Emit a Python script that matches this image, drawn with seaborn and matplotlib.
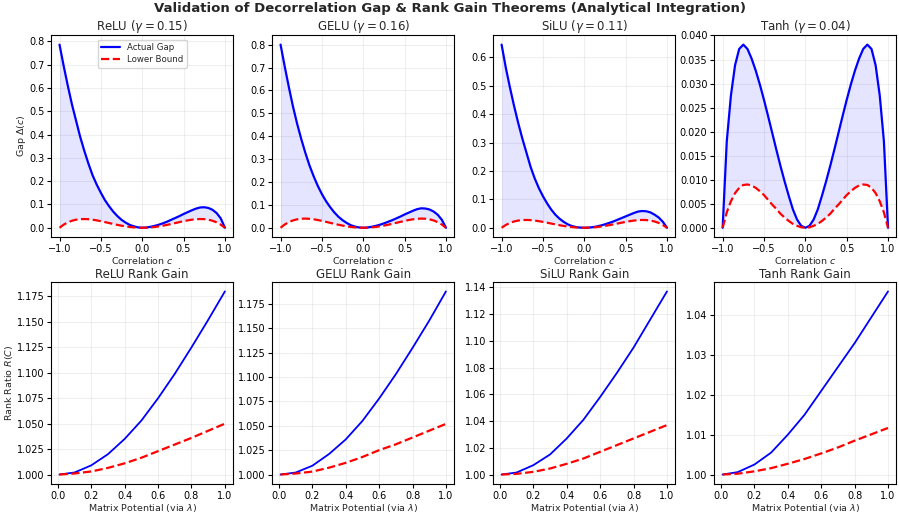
import numpy as np
import pandas as pd
import matplotlib
matplotlib.use("Agg")
import matplotlib.pyplot as plt
from matplotlib.ticker import MultipleLocator
import seaborn as sns

# ---------------- data ----------------
names = ["ReLU", "GELU", "SiLU", "Tanh"]
gammas = [0.15, 0.16, 0.11, 0.04]

corr = [-1.00, -0.95, -0.90, -0.85, -0.80, -0.75, -0.70, -0.65, -0.60, -0.55,
        -0.50, -0.45, -0.40, -0.35, -0.30, -0.25, -0.20, -0.15, -0.10, -0.05,
        0.00, 0.05, 0.10, 0.15, 0.20, 0.25, 0.30, 0.35, 0.40, 0.45,
        0.50, 0.55, 0.60, 0.65, 0.70, 0.75, 0.80, 0.85, 0.90, 0.95, 1.00]

relu_gap = [0.786, 0.695, 0.610, 0.530, 0.460, 0.390, 0.330, 0.275, 0.225, 0.185,
            0.150, 0.118, 0.092, 0.069, 0.050, 0.034, 0.022, 0.012, 0.006, 0.0015,
            0.0, 0.001, 0.004, 0.008, 0.013, 0.019, 0.026, 0.034, 0.042, 0.050,
            0.059, 0.067, 0.075, 0.082, 0.087, 0.088, 0.085, 0.077, 0.063, 0.040, 0.0]
relu_lb = [0.0, 0.0132, 0.0231, 0.0301, 0.0346, 0.0369, 0.0375, 0.0366, 0.0346, 0.0317,
           0.0281, 0.0242, 0.0202, 0.0161, 0.0123, 0.0088, 0.0058, 0.0033, 0.0015, 0.0004,
           0.0, 0.0004, 0.0015, 0.0033, 0.0058, 0.0088, 0.0123, 0.0161, 0.0202, 0.0242,
           0.0281, 0.0317, 0.0346, 0.0366, 0.0375, 0.0369, 0.0346, 0.0301, 0.0231, 0.0132, 0.0]

gelu_gap = [0.800, 0.705, 0.615, 0.530, 0.455, 0.388, 0.327, 0.272, 0.225, 0.183,
            0.147, 0.116, 0.090, 0.067, 0.048, 0.033, 0.021, 0.011, 0.005, 0.0012,
            0.0, 0.001, 0.004, 0.008, 0.013, 0.019, 0.026, 0.033, 0.041, 0.049,
            0.058, 0.066, 0.074, 0.081, 0.085, 0.084, 0.080, 0.071, 0.057, 0.035, 0.0]
gelu_lb = [0.0, 0.0141, 0.0246, 0.0321, 0.0369, 0.0394, 0.0400, 0.0390, 0.0369, 0.0338,
           0.0300, 0.0258, 0.0215, 0.0172, 0.0131, 0.0094, 0.0061, 0.0035, 0.0016, 0.0004,
           0.0, 0.0004, 0.0016, 0.0035, 0.0061, 0.0094, 0.0131, 0.0172, 0.0215, 0.0258,
           0.0300, 0.0338, 0.0369, 0.0390, 0.0400, 0.0394, 0.0369, 0.0321, 0.0246, 0.0141, 0.0]

silu_gap = [0.645, 0.565, 0.495, 0.430, 0.370, 0.315, 0.265, 0.215, 0.174, 0.140,
            0.111, 0.086, 0.064, 0.046, 0.032, 0.021, 0.012, 0.006, 0.0025, 0.0006,
            0.0, 0.0005, 0.002, 0.0045, 0.008, 0.012, 0.017, 0.022, 0.028, 0.034,
            0.040, 0.046, 0.052, 0.057, 0.059, 0.058, 0.054, 0.046, 0.036, 0.021, 0.0]
silu_lb = [0.0, 0.0097, 0.0169, 0.0221, 0.0253, 0.0271, 0.0275, 0.0268, 0.0253, 0.0232,
           0.0206, 0.0178, 0.0148, 0.0118, 0.0090, 0.0064, 0.0042, 0.0024, 0.0011, 0.0003,
           0.0, 0.0003, 0.0011, 0.0024, 0.0042, 0.0064, 0.0090, 0.0118, 0.0148, 0.0178,
           0.0206, 0.0232, 0.0253, 0.0268, 0.0275, 0.0271, 0.0253, 0.0221, 0.0169, 0.0097, 0.0]

tanh_gap = [0.0, 0.0180, 0.0275, 0.0338, 0.0372, 0.0381, 0.0372, 0.0352, 0.0327, 0.0298,
            0.0266, 0.0232, 0.0197, 0.0162, 0.0128, 0.0096, 0.0066, 0.0038, 0.0017, 0.0004,
            0.0, 0.0004, 0.0017, 0.0038, 0.0066, 0.0096, 0.0128, 0.0162, 0.0197, 0.0232,
            0.0266, 0.0298, 0.0327, 0.0352, 0.0372, 0.0381, 0.0372, 0.0338, 0.0275, 0.0180, 0.0]
tanh_lb = [0.0, 0.0032, 0.0055, 0.0072, 0.0083, 0.0089, 0.0090, 0.0088, 0.0083, 0.0076,
           0.0068, 0.0058, 0.0048, 0.0039, 0.0029, 0.0021, 0.0014, 0.0008, 0.0004, 0.0001,
           0.0, 0.0001, 0.0004, 0.0008, 0.0014, 0.0021, 0.0029, 0.0039, 0.0048, 0.0058,
           0.0068, 0.0076, 0.0083, 0.0088, 0.0090, 0.0089, 0.0083, 0.0072, 0.0055, 0.0032, 0.0]

lam = [0.01, 0.1, 0.2, 0.3, 0.4, 0.5, 0.6, 0.7, 0.8, 0.9, 1.0]
relu_rank = [1.000, 1.002, 1.009, 1.020, 1.035, 1.053, 1.075, 1.099, 1.125, 1.152, 1.180]
relu_rank_lb = [1.000, 1.001, 1.003, 1.0065, 1.011, 1.0165, 1.023, 1.0295, 1.036, 1.043, 1.050]
gelu_rank = [1.000, 1.002, 1.009, 1.021, 1.036, 1.055, 1.078, 1.103, 1.130, 1.158, 1.188]
gelu_rank_lb = [1.000, 1.001, 1.003, 1.007, 1.012, 1.018, 1.025, 1.031, 1.038, 1.045, 1.052]
silu_rank = [1.000, 1.0015, 1.007, 1.015, 1.027, 1.041, 1.058, 1.076, 1.095, 1.116, 1.137]
silu_rank_lb = [1.000, 1.0005, 1.002, 1.0045, 1.008, 1.012, 1.017, 1.022, 1.027, 1.032, 1.037]
tanh_rank = [1.000, 1.0006, 1.0025, 1.0055, 1.010, 1.015, 1.021, 1.027, 1.033, 1.0395, 1.046]
tanh_rank_lb = [1.000, 1.0002, 1.0008, 1.0016, 1.0027, 1.0039, 1.0053, 1.0068, 1.0085, 1.0101, 1.0117]

gaps = [relu_gap, gelu_gap, silu_gap, tanh_gap]
lbs = [relu_lb, gelu_lb, silu_lb, tanh_lb]
ranks = [relu_rank, gelu_rank, silu_rank, tanh_rank]
rank_lbs = [relu_rank_lb, gelu_rank_lb, silu_rank_lb, tanh_rank_lb]

gap_steps = [0.1, 0.1, 0.1, 0.005]
rank_steps = [0.025, 0.025, 0.02, 0.01]

# ---------------- plotting ----------------
sns.set_style("ticks")
plt.rcParams["font.family"] = ["DejaVu Sans"]
plt.rcParams["mathtext.fontset"] = "dejavusans"
plt.rcParams["axes.edgecolor"] = "black"
plt.rcParams["xtick.color"] = "black"
plt.rcParams["ytick.color"] = "black"

TICK = 7
LAB = 6.8

fig, axes = plt.subplots(2, 4, figsize=(8.99, 5.14), dpi=100)
fig.subplots_adjust(left=0.057, right=0.997, top=0.931, bottom=0.059,
                    wspace=0.215, hspace=0.225)

for i in range(4):
    ax = axes[0, i]
    df = pd.DataFrame({"c": corr, "gap": gaps[i], "lb": lbs[i]})
    ax.fill_between(df["c"], df["lb"], df["gap"], color="blue", alpha=0.1, lw=0)
    sns.lineplot(data=df, x="c", y="gap", ax=ax, color="blue", lw=1.6,
                 label="Actual Gap", legend=False)
    sns.lineplot(data=df, x="c", y="lb", ax=ax, color="red", lw=1.6,
                 linestyle="--", label="Lower Bound", legend=False)
    ax.set_title(f"{names[i]} ($\\gamma={gammas[i]:.2f}$)", fontsize=8.5, pad=3)
    ax.set_xlabel("Correlation $c$", fontsize=LAB, labelpad=1)
    ax.set_ylabel("Gap $\\Delta(c)$" if i == 0 else "", fontsize=LAB, labelpad=1)
    ax.set_xticks([-1.0, -0.5, 0.0, 0.5, 1.0])
    ax.yaxis.set_major_locator(MultipleLocator(gap_steps[i]))
    ax.grid(True, alpha=0.3)
    ax.tick_params(labelsize=TICK, length=3, pad=2)
    if i == 0:
        ax.legend(loc="upper center", fontsize=6.2, frameon=True,
                  handlelength=2.2, borderpad=0.4, labelspacing=0.35)

    ax = axes[1, i]
    df2 = pd.DataFrame({"lam": lam, "r": ranks[i], "rlb": rank_lbs[i]})
    sns.lineplot(data=df2, x="lam", y="r", ax=ax, color="blue", lw=1.3)
    sns.lineplot(data=df2, x="lam", y="rlb", ax=ax, color="red", lw=1.6,
                 linestyle="--")
    ax.set_title(f"{names[i]} Rank Gain", fontsize=8.5, pad=3)
    ax.set_xlabel("Matrix Potential (via $\\lambda$)", fontsize=LAB, labelpad=1)
    ax.set_ylabel("Rank Ratio $R(C)$" if i == 0 else "", fontsize=LAB, labelpad=1)
    ax.set_xticks([0.0, 0.2, 0.4, 0.6, 0.8, 1.0])
    ax.yaxis.set_major_locator(MultipleLocator(rank_steps[i]))
    ax.grid(True, alpha=0.3)
    ax.tick_params(labelsize=TICK, length=3, pad=2)

fig.suptitle("Validation of Decorrelation Gap & Rank Gain Theorems (Analytical Integration)",
             fontsize=9.5, fontweight="bold", y=0.997)
fig.savefig("out.png", dpi=100)
